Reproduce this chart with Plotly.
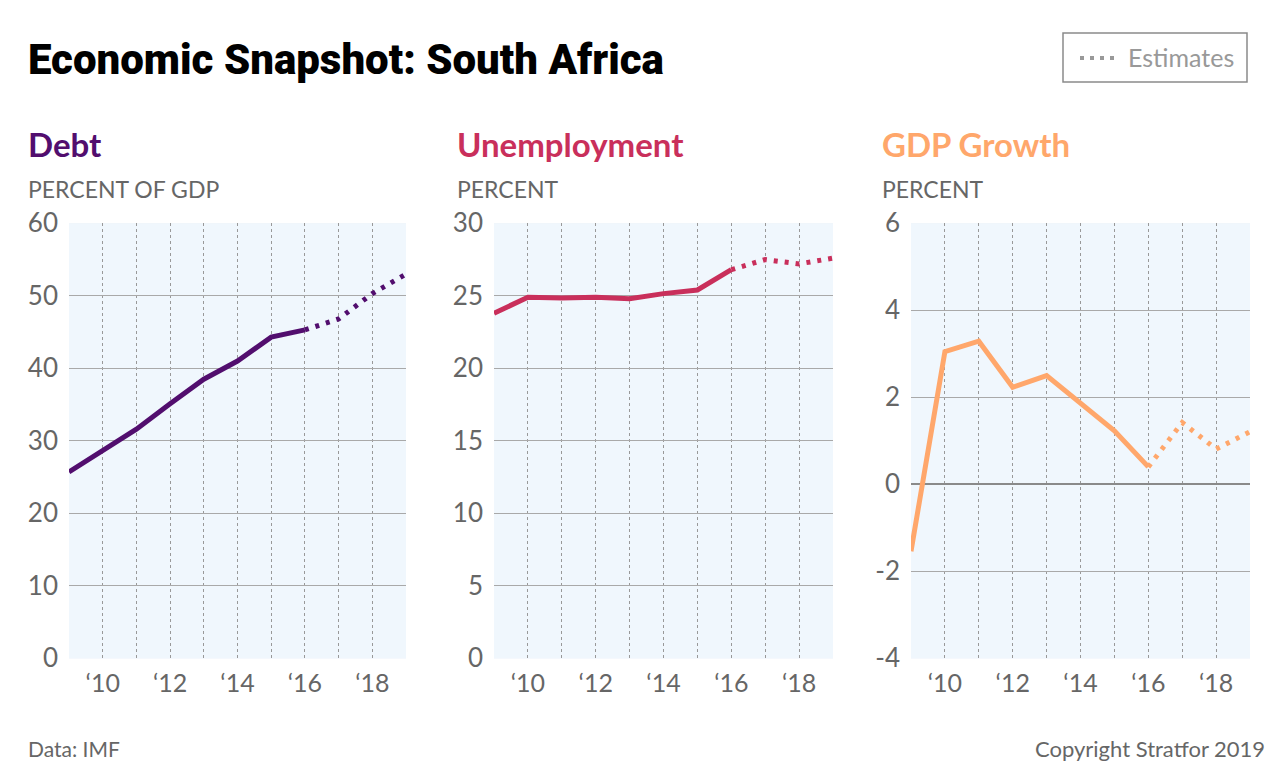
import plotly.graph_objects as go

years = [2009, 2010, 2011, 2012, 2013, 2014, 2015, 2016, 2017, 2018, 2019]
last_actual = 2016
debt = [25.7, 28.6, 31.6, 35.1, 38.5, 41.0, 44.3, 45.3, 46.8, 50.3, 53.0]
unemployment = [23.8, 24.9, 24.85, 24.9, 24.8, 25.15, 25.4, 26.8, 27.5, 27.2, 27.6]
gdp_growth = [-1.54, 3.05, 3.29, 2.23, 2.5, 1.85, 1.23, 0.4, 1.42, 0.81, 1.21]

tick_years = [2010, 2012, 2014, 2016, 2018]
tick_labels = ["\u201810", "\u201812", "\u201814", "\u201816", "\u201818"]

panels = [
    dict(name="Debt", unit="PERCENT OF GDP", values=debt, color="#520e6e",
         yrange=[0, 60], ticks=[0, 10, 20, 30, 40, 50, 60]),
    dict(name="Unemployment", unit="PERCENT", values=unemployment, color="#c92f5b",
         yrange=[0, 30], ticks=[0, 5, 10, 15, 20, 25, 30]),
    dict(name="GDP Growth", unit="PERCENT", values=gdp_growth, color="#ffa76b",
         yrange=[-4, 6], ticks=[-4, -2, 0, 2, 4, 6]),
]

W, H = 1280, 775
x_domains = [(69, 406), (494, 833), (911, 1250)]
head_x = [26, 455, 880]
y_top, y_bot = 223.3, 658.3

FONT = "Lato, 'Open Sans', sans-serif"
GRAY = "#666666"

fig = go.Figure()
layout = dict(
    width=W, height=H,
    margin=dict(l=0, r=0, t=0, b=0, pad=0, autoexpand=False),
    paper_bgcolor="white",
    showlegend=False,
    font=dict(family=FONT, color=GRAY),
)

annotations = []
shapes = []

for i, p in enumerate(panels):
    n = i + 1
    xa = "x" if n == 1 else f"x{n}"
    ya = "y" if n == 1 else f"y{n}"
    k = last_actual - years[0]
    fig.add_trace(go.Scatter(
        x=years[:k + 1], y=p["values"][:k + 1], mode="lines",
        line=dict(color=p["color"], width=5), xaxis=xa, yaxis=ya,
        hoverinfo="x+y"))
    fig.add_trace(go.Scatter(
        x=years[k:], y=p["values"][k:], mode="lines",
        line=dict(color=p["color"], width=5, dash="4px,7px"), xaxis=xa, yaxis=ya,
        hoverinfo="x+y"))

    x0, x1 = x_domains[i]
    layout["xaxis" if n == 1 else f"xaxis{n}"] = dict(
        domain=[x0 / W, x1 / W],
        range=[years[0], years[-1]],
        anchor=ya,
        tickmode="array", tickvals=tick_years, ticktext=tick_labels,
        tickfont=dict(size=25, color=GRAY, family=FONT),
        ticks="", ticklabelstandoff=8,
        showgrid=True, gridcolor="#999999", gridwidth=1, griddash="dot",
        minor=dict(tickmode="linear", tick0=years[0], dtick=1, showgrid=True,
                   gridcolor="#999999", gridwidth=1, griddash="dot"),
        zeroline=False, showline=False, fixedrange=True, automargin=False,
    )
    layout["yaxis" if n == 1 else f"yaxis{n}"] = dict(
        domain=[1 - y_bot / H, 1 - y_top / H],
        range=p["yrange"],
        anchor=xa,
        tickmode="array", tickvals=p["ticks"], ticktext=[str(t) for t in p["ticks"]],
        tickfont=dict(size=26, color=GRAY, family=FONT),
        ticks="", ticklabelstandoff=10,
        showgrid=True, gridcolor="#a9a9a9", gridwidth=1,
        zeroline=(p["yrange"][0] < 0), zerolinecolor="#8a8a8a", zerolinewidth=2,
        showline=False, fixedrange=True, automargin=False,
    )
    shapes.append(dict(type="rect", xref=f"{xa} domain", yref=f"{ya} domain",
                       x0=0, x1=1, y0=0, y1=1, fillcolor="#f0f7fd",
                       line=dict(width=0), layer="below"))
    annotations.append(dict(text=f"<b>{p['name']}</b>", x=head_x[i] / W, y=1 - 144 / H,
                            xref="paper", yref="paper", xanchor="left", yanchor="middle",
                            showarrow=False,
                            font=dict(size=33, color=p["color"], family=FONT, weight=900)))
    annotations.append(dict(text=p["unit"], x=head_x[i] / W, y=1 - 189 / H,
                            xref="paper", yref="paper", xanchor="left", yanchor="middle",
                            showarrow=False, font=dict(size=23, color=GRAY, family=FONT)))

annotations.append(dict(text="Economic Snapshot: South Africa", x=26 / W, y=1 - 60 / H,
                        xref="paper", yref="paper", xanchor="left", yanchor="middle",
                        showarrow=False,
                        font=dict(size=42, color="#000000", weight=900,
                                  family="Roboto, 'Liberation Sans Narrow', sans-serif")))
annotations.append(dict(text="Data: IMF", x=26 / W, y=1 - 748 / H, xref="paper", yref="paper",
                        xanchor="left", yanchor="middle", showarrow=False,
                        font=dict(size=21, color=GRAY, family=FONT)))
annotations.append(dict(text="Copyright Stratfor 2019", x=1267 / W, y=1 - 748 / H,
                        xref="paper", yref="paper", xanchor="right", yanchor="middle",
                        showarrow=False, font=dict(size=22, color=GRAY, family=FONT)))
shapes.append(dict(type="rect", xref="paper", yref="paper",
                   x0=1063 / W, x1=1247 / W, y0=1 - 82 / H, y1=1 - 33 / H,
                   line=dict(color="#8a8a8a", width=1.5), fillcolor="white"))
shapes.append(dict(type="line", xref="paper", yref="paper",
                   x0=1080 / W, x1=1118 / W, y0=1 - 58 / H, y1=1 - 58 / H,
                   line=dict(color="#999999", width=4, dash="4px,6px")))
annotations.append(dict(text="Estimates", x=1126 / W, y=1 - 57 / H, xref="paper", yref="paper",
                        xanchor="left", yanchor="middle", showarrow=False,
                        font=dict(size=25, color="#999999", family=FONT)))

layout["annotations"] = annotations
layout["shapes"] = shapes
fig.update_layout(**layout)
fig.write_html("out.html")
